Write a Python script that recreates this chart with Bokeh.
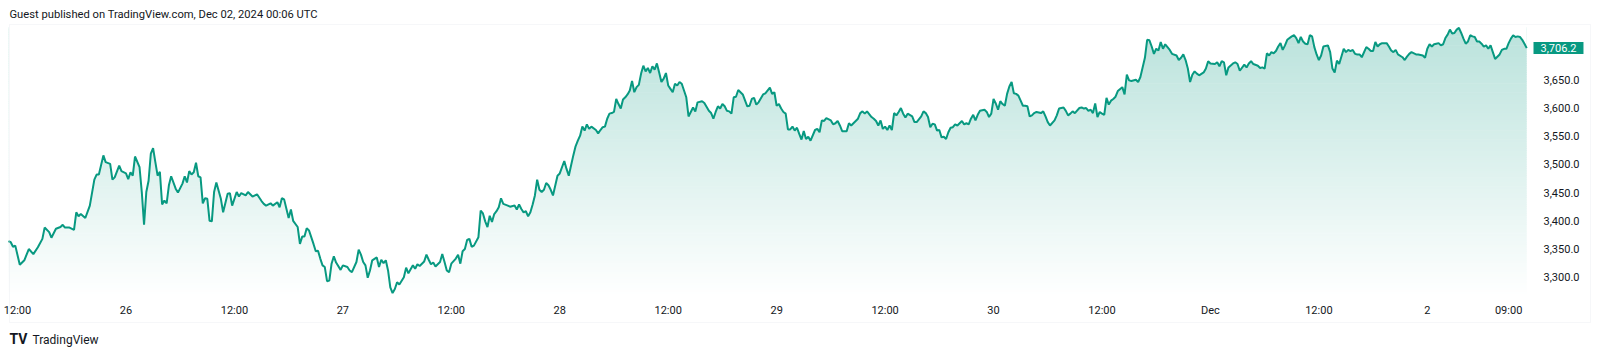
import numpy as np
from bokeh.plotting import figure
from bokeh.models import Range1d, FixedTicker, NumeralTickFormatter, Label, BoxAnnotation
from bokeh.embed import file_html
from bokeh.resources import INLINE

# ---- data: 15-minute bars, bar 0 = Nov 25 11:00 (hours counted from Nov 25 00:00)
START_HOUR = 11.0
BAR_HOURS = 0.25

bar_index = [
    0, 1, 2, 3, 5, 7, 9, 11, 13, 15, 16, 18, 19, 21, 23, 24, 25, 27, 29, 30,
    31, 32, 34, 36, 38, 39, 40, 42, 43, 45, 46, 47, 49, 50, 52, 53, 54, 55, 56, 58,
    59, 60, 61, 62, 63, 64, 65, 66, 67, 68, 69, 70, 71, 72, 74, 75, 77, 78, 79, 80,
    81, 82, 83, 84, 85, 86, 87, 88, 89, 90, 91, 92, 94, 95, 97, 98, 99, 101, 102, 103,
    105, 106, 108, 110, 112, 113, 114, 116, 117, 119, 120, 121, 122, 124, 125, 126, 128, 129, 130, 131,
    132, 133, 135, 136, 137, 138, 139, 140, 141, 142, 143, 144, 145, 147, 148, 150, 151, 152, 154, 155,
    156, 157, 158, 159, 160, 161, 163, 164, 165, 166, 167, 168, 169, 170, 171, 172, 173, 175, 176, 177,
    179, 180, 181, 182, 184, 185, 186, 187, 188, 189, 191, 192, 193, 194, 195, 196, 198, 199, 200, 201,
    202, 203, 204, 205, 206, 208, 209, 210, 211, 212, 213, 214, 215, 216, 217, 218, 219, 221, 222, 224,
    225, 226, 227, 228, 229, 230, 231, 232, 233, 234, 235, 236, 237, 238, 239, 240, 241, 243, 244, 246,
    247, 248, 249, 250, 251, 252, 253, 254, 255, 256, 257, 258, 260, 261, 262, 263, 264, 265, 266, 267,
    268, 269, 270, 271, 272, 273, 274, 275, 276, 277, 278, 279, 280, 281, 282, 283, 284, 285, 286, 287,
    288, 289, 290, 291, 292, 293, 294, 295, 296, 297, 298, 299, 300, 301, 302, 303, 304, 305, 307, 308,
    310, 311, 312, 313, 314, 315, 316, 317, 318, 319, 320, 321, 322, 323, 324, 325, 327, 328, 329, 330,
    331, 332, 334, 335, 337, 338, 339, 340, 341, 342, 343, 344, 345, 346, 347, 348, 349, 350, 351, 352,
    353, 354, 355, 357, 358, 359, 360, 361, 362, 364, 365, 366, 367, 368, 369, 371, 372, 373, 374, 376,
    377, 378, 379, 380, 382, 383, 384, 385, 386, 387, 388, 389, 390, 391, 392, 393, 394, 395, 396, 397,
    398, 400, 401, 402, 404, 405, 406, 407, 408, 409, 410, 411, 412, 413, 414, 415, 416, 417, 418, 419,
    420, 422, 423, 424, 425, 426, 427, 428, 429, 430, 432, 433, 434, 435, 436, 437, 438, 439, 440, 441,
    442, 443, 444, 445, 446, 447, 448, 449, 450, 451, 452, 453, 454, 455, 457, 458, 459, 460, 461, 463,
    464, 465, 467, 468, 469, 470, 471, 472, 474, 475, 476, 477, 478, 479, 480, 481, 482, 483, 484, 485,
    486, 487, 488, 489, 490, 491, 493, 494, 495, 496, 497, 499, 500, 501, 503, 504, 505, 506, 507, 508,
    509, 510, 511, 512, 514, 515, 517, 518, 519, 520, 521, 522, 523, 524, 525, 526, 527, 529, 530, 531,
    532, 534, 535, 536, 537, 538, 539, 540, 542, 543, 544, 545, 547, 548, 549, 550, 551, 553, 554, 555,
    556, 557, 558, 559, 560, 561, 562, 563, 564, 565, 566, 568, 569, 570, 571, 572, 573, 574, 575, 576,
    577, 578, 579, 580, 581, 582, 584, 585, 586, 587, 588, 589, 591, 592, 593, 594, 595, 596, 597, 598,
    599, 601, 602, 603, 604, 605, 606, 607, 608, 610, 611, 612, 613, 614, 615, 617, 618, 619, 620, 621,
    623, 624, 626, 627, 628, 629, 630, 631, 632, 633, 634, 635, 636, 637, 638, 639, 640, 641, 642, 643,
    644, 645, 646, 647, 648, 649, 650, 651, 652, 653, 654, 655, 656, 657, 658, 659, 660, 661, 662, 663,
    664, 665, 666, 667, 668, 669, 670, 671, 672,
]

price = [
    3364, 3362, 3354, 3356, 3322, 3330, 3350, 3341, 3353, 3368, 3388, 3380, 3370, 3386, 3389, 3393, 3388, 3388, 3384, 3415,
    3408, 3412, 3405, 3427, 3473, 3482, 3482, 3516, 3504, 3501, 3473, 3477, 3498, 3488, 3484, 3474, 3486, 3480, 3514, 3495,
    3451, 3393, 3451, 3471, 3519, 3529, 3504, 3480, 3487, 3429, 3436, 3431, 3463, 3479, 3457, 3450, 3466, 3479, 3468, 3488,
    3482, 3486, 3503, 3479, 3477, 3431, 3440, 3439, 3400, 3399, 3451, 3468, 3439, 3415, 3448, 3449, 3427, 3451, 3443, 3449,
    3445, 3451, 3443, 3447, 3435, 3430, 3427, 3431, 3427, 3433, 3424, 3440, 3438, 3405, 3420, 3400, 3389, 3359, 3372, 3372,
    3387, 3383, 3359, 3346, 3347, 3333, 3321, 3318, 3293, 3294, 3324, 3337, 3326, 3313, 3321, 3318, 3312, 3309, 3327, 3349,
    3340, 3327, 3321, 3299, 3312, 3330, 3335, 3318, 3331, 3325, 3330, 3312, 3282, 3272, 3279, 3291, 3287, 3300, 3317, 3307,
    3321, 3315, 3323, 3320, 3328, 3340, 3331, 3323, 3326, 3319, 3327, 3341, 3327, 3312, 3309, 3324, 3333, 3340, 3324, 3346,
    3350, 3366, 3368, 3354, 3356, 3371, 3418, 3413, 3399, 3389, 3409, 3398, 3412, 3417, 3424, 3440, 3430, 3427, 3425, 3427,
    3420, 3429, 3421, 3415, 3417, 3408, 3415, 3429, 3445, 3473, 3455, 3451, 3455, 3467, 3463, 3455, 3445, 3480, 3484, 3506,
    3492, 3480, 3498, 3516, 3532, 3542, 3551, 3567, 3560, 3571, 3563, 3567, 3561, 3555, 3561, 3566, 3567, 3581, 3590, 3591,
    3593, 3616, 3607, 3599, 3615, 3619, 3624, 3631, 3648, 3628, 3637, 3641, 3661, 3675, 3665, 3671, 3662, 3674, 3668, 3679,
    3663, 3646, 3652, 3662, 3640, 3634, 3628, 3643, 3640, 3646, 3643, 3631, 3619, 3585, 3593, 3601, 3594, 3610, 3612, 3609,
    3595, 3591, 3581, 3593, 3603, 3599, 3607, 3603, 3595, 3594, 3590, 3619, 3620, 3632, 3628, 3624, 3603, 3604, 3616, 3618,
    3606, 3610, 3624, 3626, 3636, 3625, 3628, 3604, 3607, 3599, 3593, 3590, 3562, 3562, 3567, 3560, 3565, 3554, 3544, 3559,
    3545, 3549, 3542, 3561, 3563, 3557, 3578, 3577, 3582, 3578, 3571, 3573, 3577, 3569, 3559, 3559, 3573, 3569, 3573, 3581,
    3591, 3594, 3590, 3594, 3584, 3581, 3577, 3569, 3578, 3563, 3567, 3561, 3569, 3561, 3591, 3587, 3593, 3600, 3590, 3583,
    3590, 3585, 3575, 3575, 3585, 3594, 3591, 3584, 3566, 3572, 3571, 3560, 3561, 3548, 3549, 3545, 3557, 3565, 3566, 3571,
    3569, 3577, 3571, 3573, 3571, 3581, 3588, 3578, 3588, 3595, 3597, 3593, 3584, 3590, 3616, 3608, 3597, 3612, 3607, 3604,
    3625, 3638, 3646, 3626, 3625, 3622, 3613, 3604, 3604, 3603, 3585, 3587, 3591, 3593, 3591, 3594, 3585, 3575, 3569, 3578,
    3587, 3599, 3601, 3595, 3587, 3590, 3594, 3591, 3600, 3601, 3599, 3600, 3595, 3597, 3591, 3608, 3584, 3593, 3590, 3588,
    3618, 3606, 3613, 3616, 3620, 3630, 3637, 3624, 3659, 3649, 3648, 3650, 3646, 3655, 3689, 3721, 3720, 3709, 3696, 3705,
    3702, 3717, 3705, 3713, 3703, 3696, 3693, 3685, 3689, 3695, 3685, 3670, 3646, 3659, 3665, 3661, 3658, 3663, 3670, 3683,
    3679, 3678, 3681, 3674, 3683, 3681, 3658, 3672, 3679, 3681, 3678, 3666, 3677, 3672, 3679, 3683, 3678, 3675, 3671, 3672,
    3670, 3697, 3693, 3699, 3697, 3701, 3709, 3715, 3703, 3711, 3721, 3727, 3729, 3724, 3715, 3726, 3718, 3714, 3713, 3729,
    3727, 3708, 3695, 3685, 3693, 3709, 3711, 3699, 3670, 3663, 3684, 3678, 3705, 3699, 3703, 3701, 3703, 3696, 3695, 3695,
    3690, 3708, 3705, 3701, 3701, 3717, 3709, 3713, 3715, 3715, 3709, 3702, 3699, 3703, 3695, 3690, 3685, 3691, 3696, 3699,
    3695, 3695, 3693, 3689, 3705, 3713, 3709, 3713, 3714, 3715, 3711, 3713, 3724, 3730, 3739, 3732, 3733, 3739, 3742, 3733,
    3723, 3714, 3718, 3729, 3727, 3726, 3718, 3718, 3714, 3709, 3711, 3705, 3711, 3699, 3687, 3691, 3695, 3703, 3705, 3705,
    3715, 3723, 3729, 3726, 3727, 3726, 3721, 3714, 3706.2,
]

# time axis ticks (hours from Nov 25 00:00) and their labels
time_ticks = [12, 24, 36, 48, 60, 72, 84, 96, 108, 120, 132, 144, 156, 168, 177]
time_labels = ["12:00", "26", "12:00", "27", "12:00", "28", "12:00", "29",
               "12:00", "30", "12:00", "Dec", "12:00", "2", "09:00"]
price_ticks = [3300, 3350, 3400, 3450, 3500, 3550, 3600, 3650]

header_text = "Guest published on TradingView.com, Dec 02, 2024 00:06 UTC"
footer_text = "TradingView"

# ---- layout constants (the whole canvas is the plot frame)
X_RANGE = (10.115, 187.164)      # hours visible across the 1600 px canvas
Y_RANGE = (3161.2, 3790.6)       # prices visible across the 355 px canvas
PANE_BOTTOM = 3265.8             # price at the bottom edge of the chart pane
PANE_TOP = 3748.05               # price at the top edge of the chart pane
PANE_RIGHT = 179.42              # hour at the right edge of the chart pane

hours = START_HOUR + BAR_HOURS * np.array(bar_index, dtype=float)
vals = np.array(price, dtype=float)

GREEN = (8, 153, 129)
TXT = "#131722"
FONT = "Roboto"

p = figure(width=1600, height=355,
           x_range=Range1d(*X_RANGE), y_range=Range1d(*Y_RANGE),
           x_axis_location="below", y_axis_location="right",
           min_border_left=0, min_border_right=0, min_border_top=0, min_border_bottom=0,
           output_backend="svg", toolbar_location=None,
           outline_line_color=None, background_fill_color="white", border_fill_color="white")
p.grid.visible = False

# gradient area: stacked bands underneath, masked above the line by white
y_top = float(vals.max())
n_bands = 120
edges = np.linspace(PANE_BOTTOM, y_top, n_bands + 1)
a_top, a_bot = 0.28, 0.0
cols = []
for lo, hi in zip(edges[:-1], edges[1:]):
    t = ((lo + hi) / 2 - PANE_BOTTOM) / (y_top - PANE_BOTTOM)
    a = a_bot + (a_top - a_bot) * t
    rgb = [round(255 * (1 - a) + c * a) for c in GREEN]
    cols.append("#%02x%02x%02x" % tuple(rgb))
band_h = edges[1] - edges[0]
p.quad(left=hours[0], right=hours[-1], bottom=edges[:-1], top=edges[1:] + band_h * 0.3,
       fill_color=cols, line_color=None)
p.varea(x=hours, y1=vals, y2=PANE_TOP, fill_color="white")
p.line(hours, vals, line_color="#089981", line_width=2)

# axes, drawn inside the canvas at the pane edges
xa = p.xaxis[0]
xa.fixed_location = PANE_BOTTOM
xa.ticker = FixedTicker(ticks=time_ticks)
xa.major_label_overrides = {t: lab for t, lab in zip(time_ticks, time_labels)}
ya = p.yaxis[0]
ya.fixed_location = PANE_RIGHT
ya.ticker = FixedTicker(ticks=price_ticks)
ya.formatter = NumeralTickFormatter(format="0,0.0")
for ax in (xa, ya):
    ax.axis_line_color = None
    ax.major_tick_line_color = None
    ax.minor_tick_line_color = None
    ax.major_tick_out = 0
    ax.major_tick_in = 0
    ax.major_label_text_font = FONT
    ax.major_label_text_font_size = "11px"
    ax.major_label_text_color = TXT
xa.major_label_standoff = 7
ya.major_label_standoff = 13

# outer box of the chart widget
p.add_layout(BoxAnnotation(left=9, right=1590, top=24, bottom=322,
                           left_units="canvas", right_units="canvas",
                           top_units="canvas", bottom_units="canvas",
                           fill_color=None, line_color="#e0e3eb", line_width=1))

# last price tag
p.add_layout(Label(x=1533, y=vals[-1], x_units="canvas", y_units="data",
                   text=f"{vals[-1]:,.1f}", text_color="white", text_font=FONT,
                   text_font_size="11px", text_baseline="middle", text_align="left",
                   background_fill_color="#089981",
                   padding=dict(left=7, right=7, top=2, bottom=2)))

# header and footer
p.add_layout(Label(x=9, y=14, x_units="canvas", y_units="canvas", text=header_text,
                   text_color=TXT, text_font=FONT, text_font_size="11.2px",
                   text_baseline="middle", text_align="left"))
p.add_layout(Label(x=9, y=338, x_units="canvas", y_units="canvas", text="TV",
                   text_color=TXT, text_font=FONT, text_font_size="14px",
                   text_font_style="bold", text_baseline="middle", text_align="left"))
p.add_layout(Label(x=32, y=339, x_units="canvas", y_units="canvas", text=footer_text,
                   text_color=TXT, text_font=FONT, text_font_size="12px",
                   text_baseline="middle", text_align="left"))

open("out.html", "w").write(file_html(p, INLINE))
